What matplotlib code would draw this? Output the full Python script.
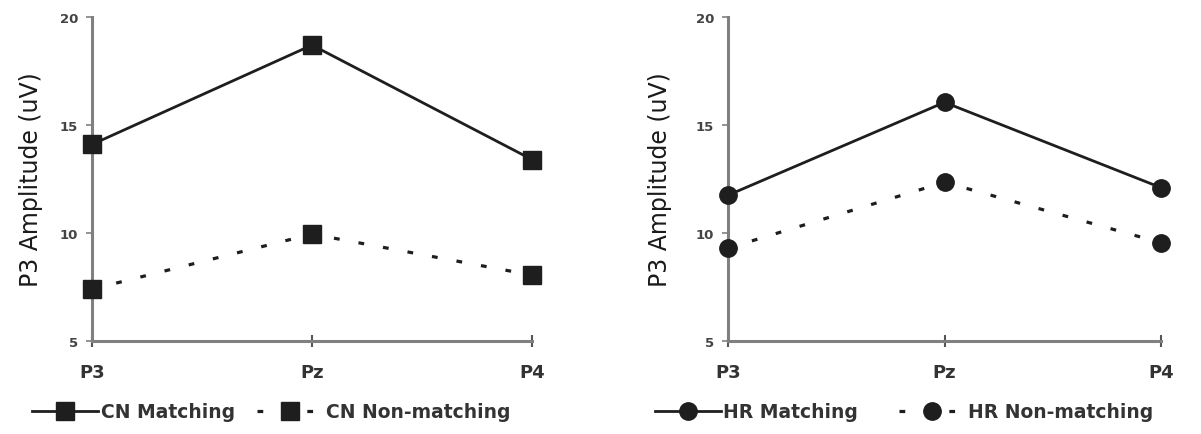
import matplotlib
matplotlib.use("Agg")
import matplotlib.pyplot as plt

# electrode sites and P3 amplitudes (uV)
sites = ["P3", "Pz", "P4"]
cn_match = [14.1, 18.7, 13.4]
cn_nonmatch = [7.4, 9.95, 8.05]
hr_match = [11.75, 16.05, 12.1]
hr_nonmatch = [9.3, 12.35, 9.55]
yticks = [5, 10, 15, 20]

plt.rcParams["font.family"] = ["DejaVu Sans"]

fig = plt.figure(figsize=(12.01, 4.35), dpi=100)
ax1 = fig.add_axes([0.0766, 0.2138, 0.3664, 0.7448])
ax2 = fig.add_axes([0.6062, 0.2138, 0.3605, 0.7448])

dark = "#1e1e1e"
grey = "#808080"


def style(ax, labx):
    x = range(len(sites))
    ax.set_xlim(0, 2)
    ax.set_ylim(5, 20)
    ax.set_xticks(list(x))
    ax.set_xticklabels(sites, fontsize=13, fontweight="bold", color="#333333")
    ax.set_yticks(yticks)
    ax.set_yticklabels([str(v) for v in yticks], fontsize=9.5, fontweight="bold", color="#444444")
    for s in ["top", "right"]:
        ax.spines[s].set_visible(False)
    for s in ["left", "bottom"]:
        ax.spines[s].set_color(grey)
        ax.spines[s].set_linewidth(2.2)
    ax.tick_params(axis="x", direction="inout", length=8, width=1.5, color="#555555", pad=12)
    ax.tick_params(axis="y", direction="out", length=4, width=1.2, color=grey, pad=6)
    ax.set_ylabel("P3 Amplitude (uV)", fontsize=17, fontweight="medium", color="#1a1a1a")
    ax.yaxis.set_label_coords(labx, 0.5)


x = list(range(len(sites)))
ax1.plot(x, cn_match, color=dark, lw=2, marker="s", ms=13, label="CN Matching", clip_on=False, zorder=5)
ax1.plot(x, cn_nonmatch, color=dark, lw=2.3, dashes=(1.8, 6), marker="s", ms=13,
         label="CN Non-matching", clip_on=False, zorder=5)
ax2.plot(x, hr_match, color=dark, lw=2, marker="o", ms=12.5, label="HR Matching", clip_on=False, zorder=5)
ax2.plot(x, hr_nonmatch, color=dark, lw=2.3, dashes=(1.8, 6), marker="o", ms=12.5,
         label="HR Non-matching", clip_on=False, zorder=5)

style(ax1, -0.112)
style(ax2, -0.13)

for ax, anchor, cs in [(ax1, (-0.136, -0.219), 1.2), (ax2, (-0.169, -0.219), 2.2)]:
    leg = ax.legend(loc="center left", bbox_to_anchor=anchor, ncol=2, frameon=False,
                    borderpad=0, borderaxespad=0,
                    handlelength=3.5, handletextpad=0.15, columnspacing=cs,
                    prop={"size": 13.5, "weight": "bold"})
    for t in leg.get_texts():
        t.set_color("#333333")

fig.savefig("out.png", dpi=100)
